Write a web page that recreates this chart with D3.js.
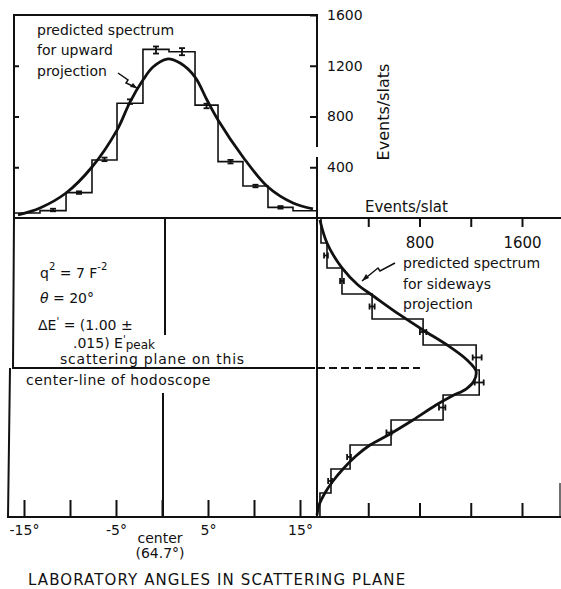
<!DOCTYPE html>
<html><head><meta charset="utf-8">
<script src="https://cdn.jsdelivr.net/npm/d3@7"></script>
<style>
body{margin:0;background:#fff}
svg{display:block}
text{font-family:"DejaVu Sans",sans-serif;fill:#111}
</style>
</head><body><svg id="c" width="561" height="589"></svg>
<script>
// ---------- data ----------
const angleTicks = [-15, -10, -5, 0, 5, 10, 15];
const angleTickLabels = ["-15°", "", "-5°", "", "5°", "", "15°"];
const eventTicks = [400, 800, 1200, 1600];
const topEventLabels = ["400", "800", "1200", "1600"];
const sideEventLabels = ["", "800", "", "1600"];

// upward projection (angle in degrees, events per slat)
const topBinEdges = [-16.2, -13.26, -10.43, -7.61, -4.89, -2.07, 0.76, 3.59, 6.09, 8.8, 11.52, 14.24, 16.85];
const topCounts   = [40, 58, 200, 457, 904, 1329, 1310, 890, 444, 252, 84, 57];
const topMarkVals = [null, 63, 200, 462, 917, 1324, 1311, 883, 444, 252, 84, null];
const topErr      = [0, 10, 10, 14, 18, 28, 28, 18, 14, 10, 10, 0];
const topCurveAngle = [-15.65, -13.26, -10.43, -7.61, -4.89, -3.48, -2.07, -0.98, 0.54, 1.96, 3.59, 4.89, 6.09, 8.8, 11.52, 14.24, 16.41];
const topCurveVal   = [24, 79, 197, 402, 693, 914, 1087, 1190, 1253, 1221, 1111, 930, 772, 481, 244, 118, 71];

// sideways projection (angle in degrees, events per slat)
const sideBinEdges = [16.25, 13.53, 10.82, 7.99, 5.27, 2.45, -0.27, -2.99, -5.71, -8.42, -11.03, -13.64, -16.25];
const sideCounts   = [31, 78, 195, 430, 828, 1242, 1266, 984, 578, 258, 109, 23];
const sideMarkVals = [null, 70, 195, 430, 828, 1250, 1266, 977, 562, 250, 102, null];
const sideErr      = [0, 15, 15, 20, 25, 35, 35, 25, 20, 15, 15, 0];
const sideCurveAngle = [16.03, 13.53, 10.82, 8.97, 7.88, 5.71, 4.08, 2.45, 0.82, -0.38, -1.47, -2.34, -3.10, -4.08, -5.71, -7.23, -8.42, -9.62, -11.03, -12.34, -13.64, -14.95, -16.03];
const sideCurveVal   = [23, 78, 195, 320, 429, 648, 827, 1015, 1171, 1241, 1225, 1163, 1054, 929, 749, 570, 414, 304, 203, 125, 62, 16, 0];

// ---------- scales ----------
const svg = d3.select("#c");
const ink = "#111";
const x = d3.scaleLinear().domain([-15, 15]).range([24, 300]);
const yTop = d3.scaleLinear().domain([0, 1600]).range([218, 15]);
const xSide = d3.scaleLinear().domain([0, 1600]).range([317, 522]);
const ySide = d3.scaleLinear().domain([-16.25, 16.25]).range([517, 218]);

// ---------- frame ----------
const frame = svg.append("g").attr("fill", "none").attr("stroke", ink).attr("stroke-width", 2);
frame.append("path").attr("d", "M14,218 L14,15 L317,15 L317,147");
frame.append("path").attr("d", "M317,157 L317,517");
frame.append("path").attr("d", "M14,218 L13,368 L315,368");
frame.append("path").attr("d", "M10,368 L8,517 L561,517");
frame.append("path").attr("d", "M14,218 L561,218");
frame.append("path").attr("d", "M165,218 L165,335");
frame.append("path").attr("d", "M163,393 L163,517");
frame.append("path").attr("d", "M560,483 L560,517").attr("stroke-width", 1.2);
frame.append("path").attr("d", "M317,368 L420,368").attr("stroke-dasharray", "8,4");

// ---------- axes ----------
const axBottom = svg.append("g").attr("transform", "translate(0,517)")
  .call(d3.axisBottom(x).tickValues(angleTicks).tickSize(-17).tickSizeOuter(0).tickPadding(8)
    .tickFormat((d, i) => angleTickLabels[i]));
axBottom.select(".domain").remove();
axBottom.selectAll("line").attr("stroke", ink).attr("stroke-width", 2);
axBottom.selectAll("text").attr("font-size", 14).attr("font-family", "DejaVu Sans").attr("fill", ink);

const axTopR = svg.append("g").attr("transform", "translate(317,0)")
  .call(d3.axisRight(yTop).tickValues(eventTicks).tickSize(-7).tickSizeOuter(0).tickPadding(10)
    .tickFormat((d, i) => topEventLabels[i]));
axTopR.select(".domain").remove();
axTopR.selectAll("line").attr("stroke", ink).attr("stroke-width", 2);
axTopR.selectAll("text").attr("font-size", 14).attr("font-family", "DejaVu Sans").attr("fill", ink);

const axTopL = svg.append("g").attr("transform", "translate(14,0)")
  .call(d3.axisLeft(yTop).tickValues(eventTicks.slice(0, 3)).tickSize(-5).tickSizeOuter(0).tickFormat(""));
axTopL.select(".domain").remove();
axTopL.selectAll("line").attr("stroke", ink).attr("stroke-width", 2);

const axSideT = svg.append("g").attr("transform", "translate(0,218)")
  .call(d3.axisBottom(xSide).tickValues(eventTicks).tickSize(9).tickSizeOuter(0).tickPadding(10)
    .tickFormat((d, i) => sideEventLabels[i]));
axSideT.select(".domain").remove();
axSideT.selectAll("line").attr("stroke", ink).attr("stroke-width", 2);
axSideT.selectAll("text").attr("font-size", 15).attr("font-family", "DejaVu Sans").attr("fill", ink);

const axSideB = svg.append("g").attr("transform", "translate(0,517)")
  .call(d3.axisBottom(xSide).tickValues(eventTicks).tickSize(-14).tickSizeOuter(0).tickFormat(""));
axSideB.select(".domain").remove();
axSideB.selectAll("line").attr("stroke", ink).attr("stroke-width", 2);

// ---------- upward histogram ----------
let dTop = `M${x(topBinEdges[0])},${yTop(topCounts[0])}`;
topCounts.forEach((c, i) => {
  dTop += ` V${yTop(c)} H${x(topBinEdges[i + 1])}`;
});
svg.append("path").attr("d", dTop).attr("fill", "none").attr("stroke", ink).attr("stroke-width", 1.6);

const topMarks = svg.append("g").attr("stroke", ink).attr("stroke-width", 1.8);
topMarkVals.forEach((v, i) => {
  if (v === null) return;
  const cx = x((topBinEdges[i] + topBinEdges[i + 1]) / 2);
  const y1 = yTop(v + topErr[i]), y2 = yTop(v - topErr[i]);
  topMarks.append("line").attr("x1", cx).attr("x2", cx).attr("y1", y1).attr("y2", y2);
  topMarks.append("line").attr("x1", cx - 3).attr("x2", cx + 3).attr("y1", y1).attr("y2", y1);
  topMarks.append("line").attr("x1", cx - 3).attr("x2", cx + 3).attr("y1", y2).attr("y2", y2);
});

const topLine = d3.line().x(d => x(d[0])).y(d => yTop(d[1])).curve(d3.curveCatmullRom);
svg.append("path").attr("d", topLine(topCurveAngle.map((a, i) => [a, topCurveVal[i]])))
  .attr("fill", "none").attr("stroke", ink).attr("stroke-width", 2.8);

// ---------- sideways histogram ----------
let dSide = `M${xSide(0)},${ySide(sideBinEdges[0])}`;
sideCounts.forEach((c, i) => {
  dSide += ` H${xSide(c)} V${ySide(sideBinEdges[i + 1])}`;
});
svg.append("path").attr("d", dSide).attr("fill", "none").attr("stroke", ink).attr("stroke-width", 1.6);

const sideMarks = svg.append("g").attr("stroke", ink).attr("stroke-width", 1.8);
sideMarkVals.forEach((v, i) => {
  if (v === null) return;
  const cy = ySide((sideBinEdges[i] + sideBinEdges[i + 1]) / 2);
  const x1 = xSide(v - sideErr[i]), x2 = xSide(v + sideErr[i]);
  sideMarks.append("line").attr("x1", x1).attr("x2", x2).attr("y1", cy).attr("y2", cy);
  sideMarks.append("line").attr("x1", x1).attr("x2", x1).attr("y1", cy - 3).attr("y2", cy + 3);
  sideMarks.append("line").attr("x1", x2).attr("x2", x2).attr("y1", cy - 3).attr("y2", cy + 3);
});

const sideLine = d3.line().x(d => xSide(d[1])).y(d => ySide(d[0])).curve(d3.curveCatmullRom);
svg.append("path").attr("d", sideLine(sideCurveAngle.map((a, i) => [a, sideCurveVal[i]])))
  .attr("fill", "none").attr("stroke", ink).attr("stroke-width", 2.8);

// ---------- annotations ----------
const txt = (xx, yy, s, size, extra) => {
  const t = svg.append("text").attr("x", xx).attr("y", yy).attr("font-size", size || 14).text(s);
  if (extra) extra(t);
  return t;
};
txt(37, 35, "predicted spectrum", 14);
txt(37, 55, "for upward", 14);
txt(37, 76, "projection", 14);
svg.append("path").attr("d", "M118,73 L128,80 L126,83 L137,88").attr("fill", "none").attr("stroke", ink).attr("stroke-width", 1.5);
svg.append("path").attr("d", "M137,88 L130,87 L133,83 Z").attr("fill", ink);

txt(403, 268, "predicted spectrum", 14);
txt(403, 289, "for sideways", 14);
txt(403, 309, "projection", 14);
svg.append("path").attr("d", "M395,263 L380,271 L378,268 L362,281").attr("fill", "none").attr("stroke", ink).attr("stroke-width", 1.5);
svg.append("path").attr("d", "M362,281 L366,274 L369,278 Z").attr("fill", ink);

svg.append("text").attr("transform", "translate(389,112) rotate(-90)").attr("text-anchor", "middle")
  .attr("font-size", 16).text("Events/slats");
txt(365, 212, "Events/slat", 15);

// physics parameters
const t1 = svg.append("text").attr("x", 40).attr("y", 278).attr("font-size", 14);
t1.append("tspan").text("q");
t1.append("tspan").attr("dy", -8).attr("font-size", 10).text("2");
t1.append("tspan").attr("dy", 8).text(" = 7 F");
t1.append("tspan").attr("dy", -8).attr("font-size", 10).text("-2");
const t2 = svg.append("text").attr("x", 40).attr("y", 303).attr("font-size", 14);
t2.append("tspan").attr("font-style", "italic").text("θ");
t2.append("tspan").text(" = 20°");
const t3 = svg.append("text").attr("x", 38).attr("y", 330).attr("font-size", 14);
t3.append("tspan").text("ΔE");
t3.append("tspan").attr("dy", -5).attr("font-size", 10).text("'");
t3.append("tspan").attr("dy", 5).text(" = (1.00 ±");
const t4 = svg.append("text").attr("x", 73).attr("y", 348).attr("font-size", 14);
t4.append("tspan").text(".015)  E");
t4.append("tspan").attr("dy", -5).attr("font-size", 10).text("'");
t4.append("tspan").attr("dy", 6).attr("font-size", 12).text("peak");
txt(60, 364, "scattering  plane on this", 14, t => t.attr("letter-spacing", 0.8));
txt(26, 385, "center-line  of  hodoscope", 14, t => t.attr("letter-spacing", 0.5));

// bottom labels
svg.append("text").attr("x", 160).attr("y", 543).attr("text-anchor", "middle").attr("font-size", 14).text("center");
svg.append("text").attr("x", 160).attr("y", 558).attr("text-anchor", "middle").attr("font-size", 14).text("(64.7°)");
txt(28, 585, "LABORATORY  ANGLES  IN  SCATTERING  PLANE", 15, t => t.attr("letter-spacing", 1.1));
</script>
</body></html>
